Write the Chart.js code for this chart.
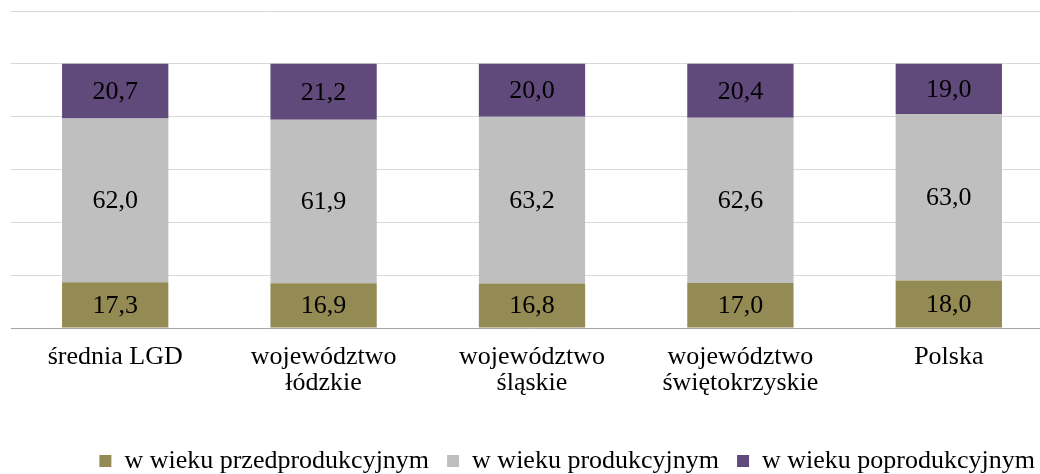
<!DOCTYPE html>
<html lang="pl">
<head>
    <meta charset="UTF-8">
    <title>Struktura wieku</title>
    <script src="https://cdn.jsdelivr.net/npm/chart.js"></script>
    <style>
        html, body { margin: 0; padding: 0; background: #fff; overflow: hidden; }
        #outer { width: 1040px; height: 474px; overflow: hidden; }
        /* plot area in the original runs a little past the right edge */
        #wrap { width: 1053px; height: 474px; }
    </style>
</head>
<body>
    <div id="outer"><div id="wrap"><canvas id="myChart"></canvas></div></div>
    <script>
        const categories = [
            ['średnia LGD'],
            ['województwo', 'łódzkie'],
            ['województwo', 'śląskie'],
            ['województwo', 'świętokrzyskie'],
            ['Polska']
        ];
        const przed = [17.3, 16.9, 16.8, 17.0, 18.0];
        const prod = [62.0, 61.9, 63.2, 62.6, 63.0];
        const popr = [20.7, 21.2, 20.0, 20.4, 19.0];

        const serif = '"Liberation Serif", "Times New Roman", serif';
        const fontSize = 26;

        // values written in the middle of each segment
        const valueLabels = {
            id: 'valueLabels',
            afterDatasetsDraw(chart) {
                const ctx = chart.ctx;
                ctx.save();
                ctx.font = fontSize + 'px ' + serif;
                ctx.fillStyle = '#000';
                ctx.textAlign = 'center';
                ctx.textBaseline = 'middle';
                chart.data.datasets.forEach((ds, i) => {
                    chart.getDatasetMeta(i).data.forEach((bar, j) => {
                        const mid = (bar.y + bar.base) / 2;
                        ctx.fillText(ds.data[j].toFixed(1).replace('.', ','), bar.x, mid + 1);
                    });
                });
                ctx.restore();
            }
        };

        const ctx = document.getElementById('myChart').getContext('2d');
        new Chart(ctx, {
            type: 'bar',
            data: {
                labels: categories,
                datasets: [
                    { label: 'w wieku przedprodukcyjnym', data: przed, backgroundColor: '#948A54' },
                    { label: 'w wieku produkcyjnym', data: prod, backgroundColor: '#BFBFBF' },
                    { label: 'w wieku poprodukcyjnym', data: popr, backgroundColor: '#604A7B' }
                ]
            },
            options: {
                responsive: true,
                maintainAspectRatio: false,
                animation: false,
                categoryPercentage: 1,
                barPercentage: 0.51,
                layout: { padding: { left: 11, right: 0, top: 11, bottom: -10 } },
                scales: {
                    x: {
                        stacked: true,
                        grid: { display: false, drawTicks: false },
                        border: { color: '#a6a6a6', width: 1 },
                        ticks: {
                            color: '#000',
                            font: { family: serif, size: fontSize, lineHeight: 1.0 },
                            padding: 16,
                            maxRotation: 0
                        },
                        afterFit(scale) { scale.height += 18; }
                    },
                    y: {
                        stacked: true,
                        min: 0,
                        max: 120,
                        ticks: { display: false, stepSize: 20 },
                        grid: { color: '#d9d9d9', drawTicks: false, lineWidth: 1 },
                        border: { display: false }
                    }
                },
                plugins: {
                    legend: {
                        position: 'bottom',
                        align: 'end',
                        labels: {
                            color: '#000',
                            boxWidth: 12,
                            boxHeight: 12,
                            padding: 18,
                            font: { family: serif, size: fontSize }
                        }
                    },
                    tooltip: { enabled: false }
                }
            },
            plugins: [valueLabels]
        });
    </script>
</body>
</html>
